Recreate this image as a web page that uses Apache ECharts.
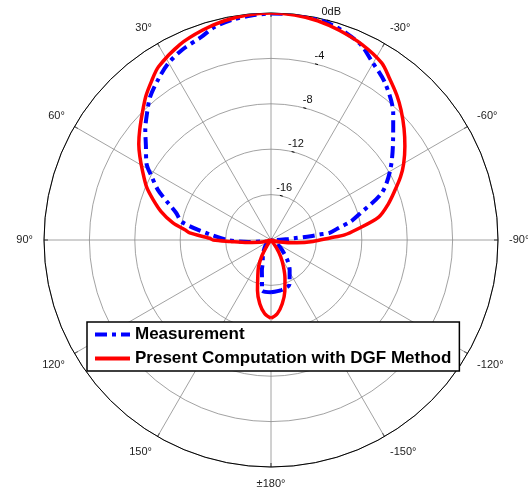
<!DOCTYPE html>
<html>
<head>
<meta charset="utf-8">
<script src="https://cdn.jsdelivr.net/npm/echarts@6/dist/echarts.min.js"></script>
<style>
html,body{margin:0;padding:0;background:#fff;}
#chart{width:528px;height:495px;}
</style>
</head>
<body>
<div id="chart"></div>
<script>
// Angles in degrees (counterclockwise from broadside, -180..180), values in dB
const redAngles = [-180,-175,-170,-165,-160,-155,-150,-145,-140,-110,-102,-96,-92,-88,-86,-83,-78,-73,-68,-64,-60,-55,-50,-45,-41,-36,-32,-25,-18,-12,-6,0,6,12,18,25,33,37,41,45,50,54,57.5,62,67,71,75.5,80,83.4,85,88.4,90,92,96,103,110,140,145,150,155,160,165,170,175,180];
const redValues = [-13.1,-13.5,-14.3,-15.3,-16.4,-17.4,-18.3,-19.2,-20,-20,-19.2,-17.7,-16.3,-14.8,-13.5,-12.4,-10.3,-9.2,-8.2,-7.3,-6.5,-5.6,-4.7,-3.8,-3.1,-2.3,-1.6,-1.0,-0.57,-0.25,-0.06,0,-0.06,-0.25,-0.55,-1.0,-1.8,-2.5,-3.2,-4.0,-4.9,-5.6,-6.3,-7.2,-8.1,-9.0,-10.0,-11.2,-12.4,-12.8,-14.6,-14.9,-16.4,-17.9,-19.2,-20,-20,-19.4,-18.4,-17.4,-16.6,-15.4,-14.3,-13.5,-13.1];

const blueAngles = [-180,-168,-157,-148,-141,-132,-125,-115,-100,-90,-87,-85.5,-84.5,-83.6,-83,-80,-77,-73.7,-67,-59.5,-50.7,-44,-36,-29,-25,-20,-15,-10,-5,0,5,10,15,18.8,25,30.2,35,40.2,44,48.9,53,58.3,62,66.1,70,74,78.6,84.5,90,95,100,120,138,150,160.4,163.3,167.3,169.8,180];
const blueValues = [-15.4,-15.5,-15.8,-16.9,-17.7,-18.7,-19.2,-19.5,-20,-19.6,-18.6,-18.0,-16.5,-15.7,-14.8,-14.0,-12.8,-11.9,-9.4,-7.8,-6.1,-4.5,-2.9,-1.85,-1.1,-0.6,-0.25,-0.08,0,-0.05,-0.15,-0.3,-0.6,-1.07,-1.5,-2.0,-2.7,-3.5,-4.3,-5.3,-6.2,-7.1,-8.1,-9.1,-10.3,-11.3,-12.0,-14.5,-16.2,-18.0,-19.2,-19.6,-19.2,-18.6,-17.8,-17.2,-16.4,-15.5,-15.4];

const radialTicks = [-20,-16,-12,-8,-4,0];
const seriesNames = ['Measurement','Present Computation with DGF Method'];

function toPolar(angles, values){
  return angles.map((a,i)=>[values[i], (a+360)%360]);
}
function angleLabel(v){
  if (v === 0 || v === 360) return '';
  if (v === 180) return '\u00b1180\u00b0';
  if (v < 180) return v + '\u00b0';
  return (v - 360) + '\u00b0';
}
const FONT = "'Liberation Sans', Arial, sans-serif";
const chart = echarts.init(document.getElementById('chart'));
chart.setOption({
  backgroundColor:'#fff',
  animation:false,
  polar:[
    {center:[271,240], radius:227},
    {center:[271,240], radius:227}
  ],
  angleAxis:[
    {
      polarIndex:0, type:'value', min:0, max:360, interval:30,
      startAngle:90, clockwise:false,
      axisLine:{show:true, lineStyle:{color:'#000', width:1}},
      axisTick:{show:true, inside:true, length:4, lineStyle:{color:'#000'}},
      axisLabel:{show:true, margin:11, align:'center', verticalAlign:'middle',
        color:'#222', fontSize:11, fontFamily:FONT, formatter:angleLabel},
      splitLine:{show:true, lineStyle:{color:'#8a8a8a', width:0.8}}
    },
    {
      polarIndex:1, type:'value', min:0, max:360, interval:30,
      startAngle:75, clockwise:false, show:false
    }
  ],
  radiusAxis:[
    {
      polarIndex:0, type:'value', min:radialTicks[0], max:radialTicks[radialTicks.length-1], interval:4,
      axisLine:{show:false}, axisTick:{show:false}, axisLabel:{show:false},
      splitLine:{show:true, lineStyle:{color:'#8a8a8a', width:0.8}}
    },
    {
      polarIndex:1, type:'value', min:radialTicks[0], max:radialTicks[radialTicks.length-1], interval:4,
      axisLine:{show:false},
      axisTick:{show:true, length:3, lineStyle:{color:'#000'}},
      axisLabel:{show:true, margin:0, align:'center', verticalAlign:'bottom', padding:[0,0,3,3],
        color:'#111', fontSize:11, fontFamily:FONT,
        formatter:function(v){ if (v===0) return '0dB'; if (v===-20) return ''; return String(v); }},
      splitLine:{show:false}
    }
  ],
  legend:{
    orient:'vertical', left:87, top:322,
    backgroundColor:'#fff', borderColor:'#000', borderWidth:1.5,
    padding:[4,8,4,6], itemGap:7, itemWidth:35, itemHeight:14,
    itemStyle:{opacity:0},
    lineStyle:{width:4},
    textStyle:{fontSize:17, fontWeight:'bold', color:'#000', fontFamily:FONT},
    data:seriesNames
  },
  series:[
    {
      name:seriesNames[0], type:'line', coordinateSystem:'polar', polarIndex:0,
      data:toPolar(blueAngles, blueValues), symbol:'none', smooth:0.3, z:3,
      lineStyle:{color:'#0000ff', width:4, type:[12,5,4,5]},
      itemStyle:{color:'#0000ff'}
    },
    {
      name:seriesNames[1], type:'line', coordinateSystem:'polar', polarIndex:0,
      data:toPolar(redAngles, redValues), symbol:'none', smooth:0.3, z:4,
      lineStyle:{color:'#ff0000', width:3.5},
      itemStyle:{color:'#ff0000'}
    }
  ]
});
</script>
</body>
</html>
